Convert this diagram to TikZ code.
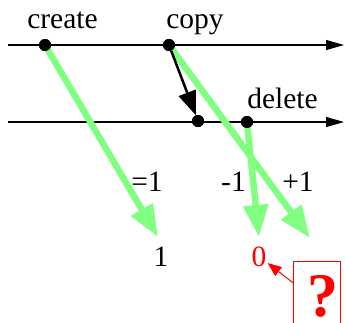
\documentclass[tikz,border=0pt]{standalone}
\usepackage{fontspec}
\setmainfont{Liberation Serif}
\usetikzlibrary{arrows.meta}
\definecolor{lightgreen}{RGB}{128,255,128}
\definecolor{qred}{RGB}{255,0,0}
\begin{document}
\begin{tikzpicture}[x=1pt,y=-1pt,
  dot/.style={circle,fill=black,inner sep=0pt,minimum size=12pt},
  timeline/.style={line width=1.1pt,-{Triangle[length=18pt,width=10pt]}},
  flow/.style={line width=6.5pt,lightgreen,-{Triangle[length=32pt,width=24pt]}},
  copyarrow/.style={line width=2.5pt,-{Triangle[length=24pt,width=18pt]}},
  lbl/.style={inner sep=1pt,anchor=base,font=\fontsize{29.5}{32}\selectfont}]
  \clip (0,0) rectangle (345,322);
  \fill[white] (0,0) rectangle (345,322);

  % two process timelines
  \coordinate (t1s) at (8,45);
  \coordinate (t1e) at (344,45);
  \coordinate (t2s) at (8,122);
  \coordinate (t2e) at (344,122);
  \draw[timeline] (t1s) -- (t1e);
  \draw[timeline] (t2s) -- (t2e);

  % events
  \node[dot] (create) at (45,45) {};
  \node[dot] (copy) at (169,45) {};
  \node[dot] (recv) at (198,121) {};
  \node[dot] (delete) at (247,122) {};

  % end points of the reference-count flows
  \coordinate (cnt1) at (158,237);
  \coordinate (cnt0) at (259,237);
  \coordinate (cnt2) at (310,238);

  % reference-count flows
  \draw[flow] (create.center) -- (cnt1);
  \draw[flow] (copy.center) -- (cnt2);
  \draw[flow] (delete.center) -- (cnt0);

  % redraw the events on top of the flows
  \node[dot] at (create) {};
  \node[dot] at (copy) {};
  \node[dot] at (recv) {};
  \node[dot] at (delete) {};

  % message carrying the copy
  \draw[copyarrow] (copy) -- (recv);

  % labels
  \node[lbl] (lcreate) at (62.5,28.3) {create};
  \node[lbl] (lcopy) at (195,28.3) {copy};
  \node[lbl] (ldelete) at (282.5,108) {delete};
  \node[lbl] (leq) at (147,191) {=1};
  \node[lbl] (lminus) at (233.5,191) {-1};
  \node[lbl] (lplus) at (298,191) {+1};
  \node[lbl] (one) at (161,266) {1};
  \node[lbl,text=qred] (zero) at (259,266) {0};

  % question box
  \node[draw=qred,line width=1pt,minimum width=47pt,minimum height=80pt,
        anchor=north west,inner sep=0pt] (qbox) at (293.3,260.5) {};
  \node[text=qred,anchor=base,inner sep=0pt,
        font=\fontsize{62}{64}\selectfont\bfseries] (qmark) at (322.5,316) {?};
  \coordinate (qa) at (293.3,283);
  \draw[qred,line width=1pt,-{Triangle[length=14pt,width=11pt]}] (qa) -- (zero);
\end{tikzpicture}
\end{document}
